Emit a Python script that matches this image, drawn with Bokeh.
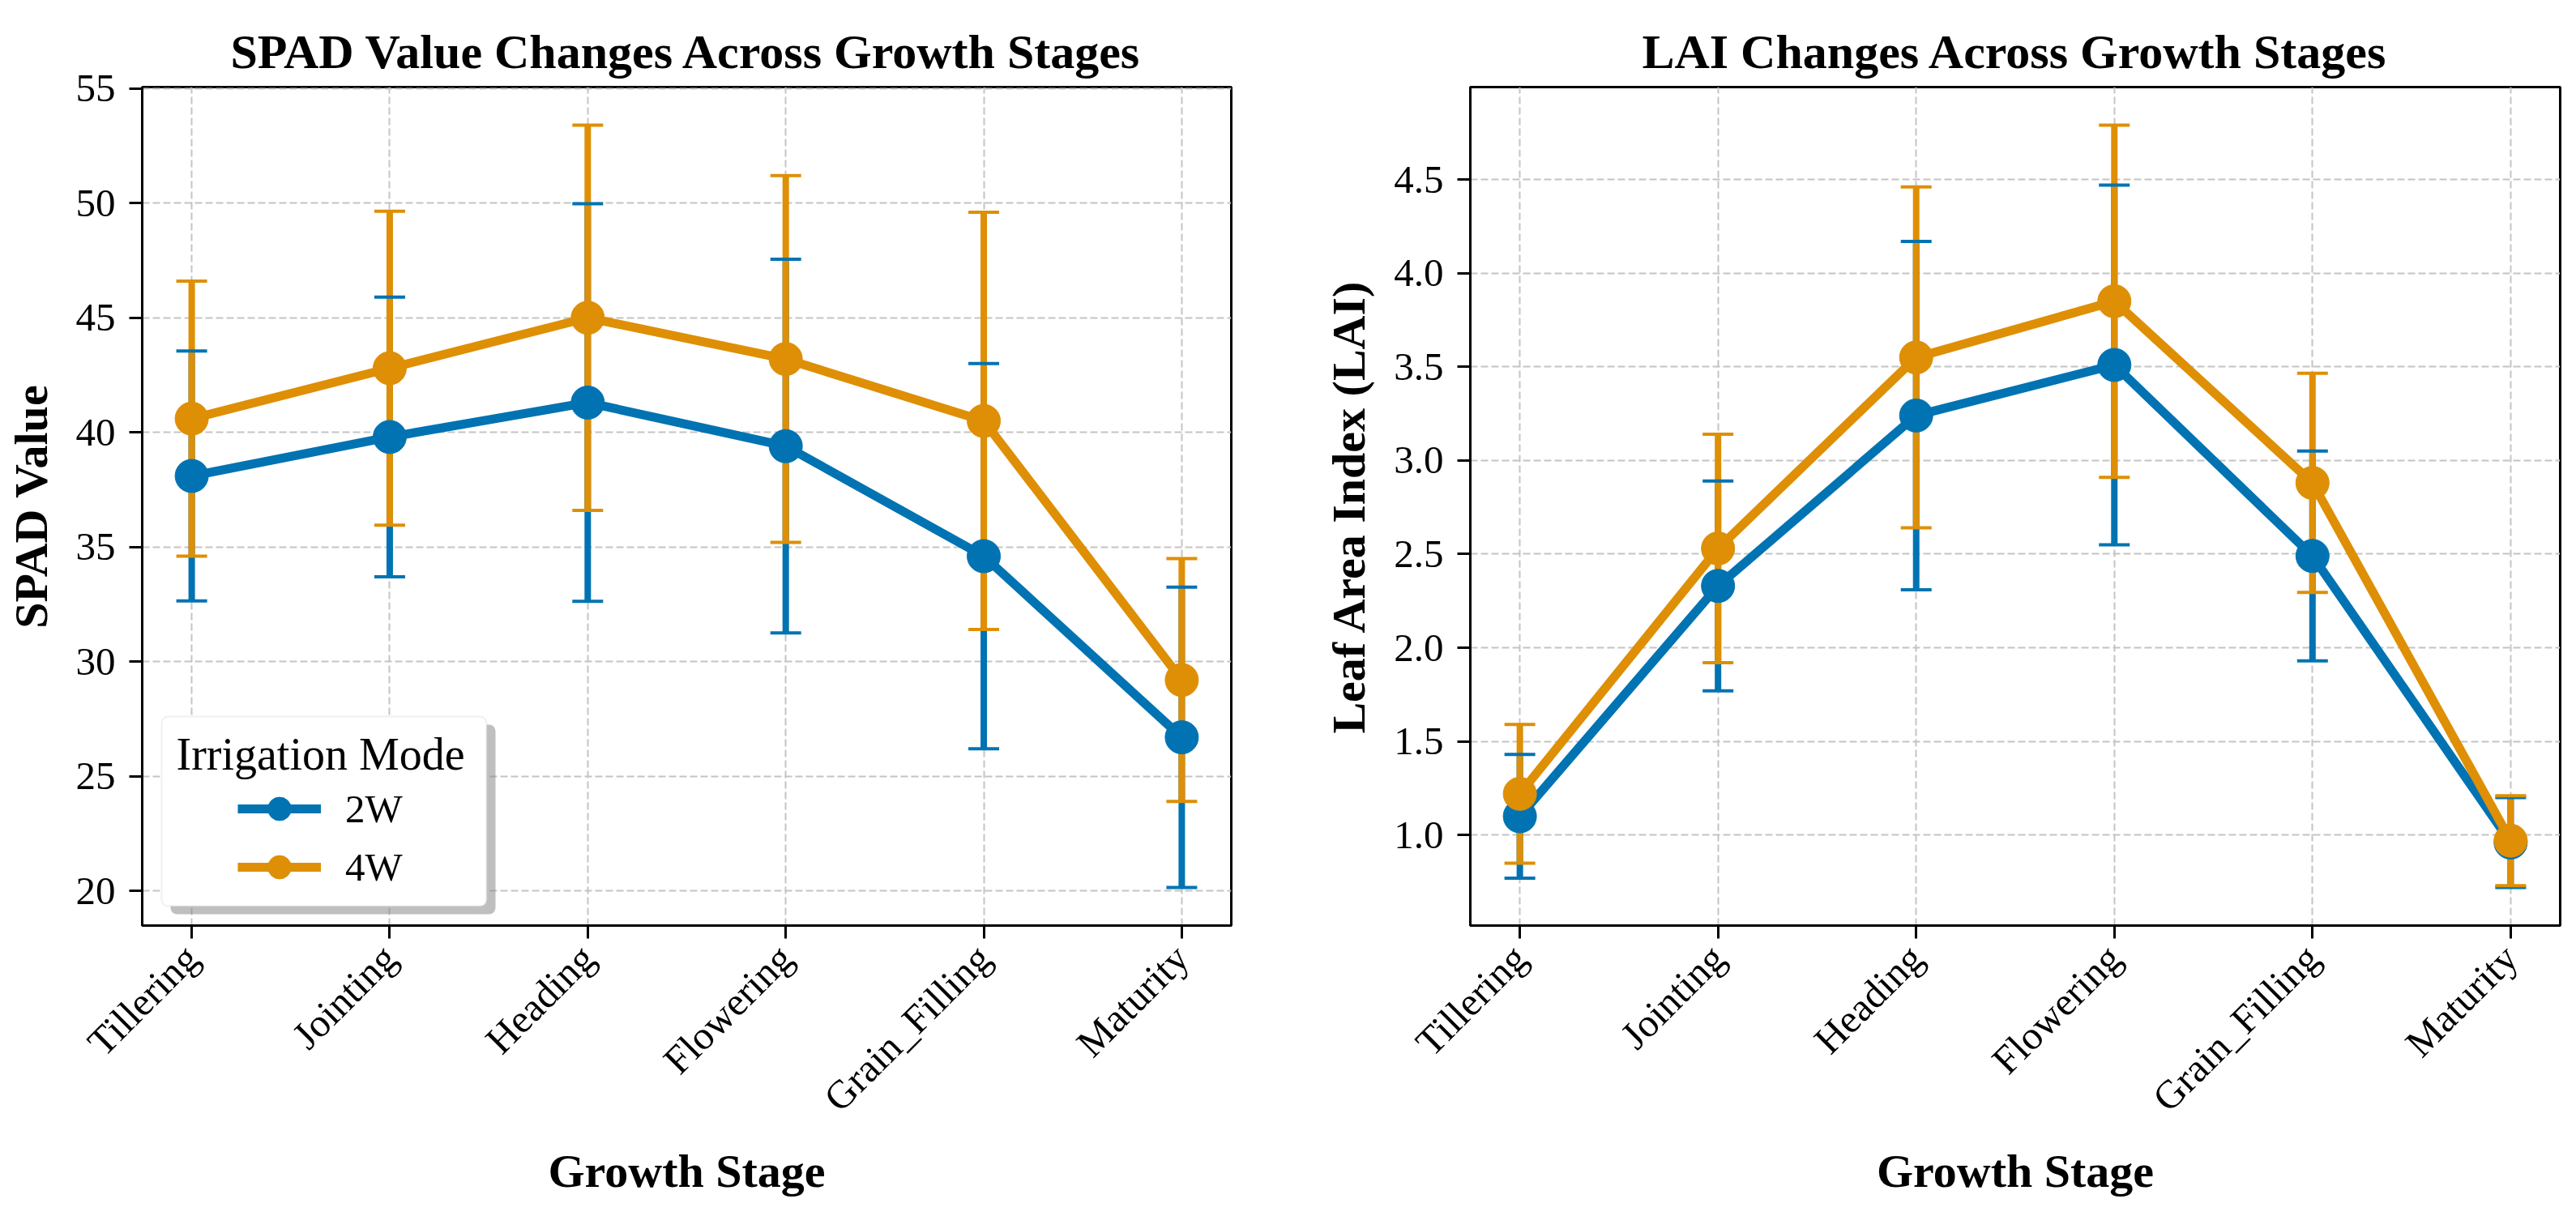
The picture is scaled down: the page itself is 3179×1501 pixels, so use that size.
import math
from bokeh.plotting import figure
from bokeh.models import (Range1d, FixedTicker, NumeralTickFormatter, Legend, LegendItem,
                          BoxAnnotation, Label)
from bokeh.layouts import row
from bokeh.embed import file_html
from bokeh.resources import INLINE

# ---------------- data ----------------
stages = ["Tillering", "Jointing", "Heading", "Flowering", "Grain_Filling", "Maturity"]
modes = ["2W", "4W"]

spad_2w = [38.1, 39.8, 41.3, 39.4, 34.6, 26.7]
spad_2w_err = [5.45, 6.1, 8.67, 8.15, 8.4, 6.55]
spad_4w = [40.6, 42.8, 45.0, 43.2, 40.5, 29.2]
spad_4w_err = [6.0, 6.85, 8.4, 8.0, 9.1, 5.3]

lai_2w = [1.10, 2.33, 3.24, 3.51, 2.49, 0.96]
lai_2w_err = [0.33, 0.56, 0.93, 0.96, 0.56, 0.24]
lai_4w = [1.22, 2.53, 3.55, 3.85, 2.88, 0.97]
lai_4w_err = [0.37, 0.61, 0.91, 0.94, 0.585, 0.24]

spad_ticks = [20, 25, 30, 35, 40, 45, 50, 55]
lai_ticks = [1.0, 1.5, 2.0, 2.5, 3.0, 3.5, 4.0, 4.5]

colors = ["#0173B2", "#DE8F05"]
FONT = "Liberation Serif"


def make_panel(title, ylabel, series, errs, yticks, fmt, width, b_left, b_right):
    xs = list(range(len(stages)))
    lows = [m - e for s, es in zip(series, errs) for m, e in zip(s, es)]
    highs = [m + e for s, es in zip(series, errs) for m, e in zip(s, es)]
    lo, hi = min(lows), max(highs)
    pad = 0.05 * (hi - lo)
    p = figure(width=width, height=1485, output_backend="svg", toolbar_location=None,
               x_range=Range1d(-0.25, len(stages) - 1 + 0.25),
               y_range=Range1d(lo - pad, hi + pad),
               min_border_left=b_left, min_border_right=b_right,
               min_border_top=107, min_border_bottom=343)
    p.background_fill_color = "white"
    p.border_fill_color = "white"
    p.outline_line_color = "black"
    p.outline_line_width = 3

    p.title.text = title
    p.title.align = "center"
    p.title.text_font = FONT
    p.title.text_font_size = "60px"
    p.title.text_font_style = "bold"
    p.title.text_color = "black"
    p.title.standoff = 22

    for ax in (p.xaxis[0], p.yaxis[0]):
        ax.axis_line_color = "black"
        ax.axis_line_width = 3
        ax.major_tick_line_color = "black"
        ax.major_tick_line_width = 3
        ax.major_tick_out = 16
        ax.major_tick_in = 0
        ax.minor_tick_line_color = None
        ax.major_label_text_font = FONT
        ax.major_label_text_font_size = "49px"
        ax.major_label_text_color = "black"
        ax.axis_label_text_font = FONT
        ax.axis_label_text_font_size = "58px"
        ax.axis_label_text_font_style = "bold"
        ax.axis_label_text_color = "black"

    p.xaxis.ticker = FixedTicker(ticks=xs)
    p.xaxis.major_label_overrides = {i: s for i, s in enumerate(stages)}
    p.xaxis.major_label_orientation = math.pi / 4
    p.xaxis.major_label_standoff = 16
    p.xaxis.axis_label = "Growth Stage"
    p.xaxis.axis_label_standoff = 8

    p.yaxis.ticker = FixedTicker(ticks=yticks)
    p.yaxis.formatter = NumeralTickFormatter(format=fmt)
    p.yaxis.major_label_standoff = 17
    p.yaxis.axis_label = ylabel
    p.yaxis.axis_label_standoff = 20

    for g in (p.xgrid[0], p.ygrid[0]):
        g.grid_line_color = "#c4c4c4"
        g.grid_line_width = 2
        g.grid_line_dash = "9 4"
    p.xgrid.ticker = FixedTicker(ticks=xs)
    p.ygrid.ticker = FixedTicker(ticks=yticks)

    # error bars
    for s, es, c in zip(series, errs, colors):
        p.segment(x0=xs, y0=[m - e for m, e in zip(s, es)], x1=xs,
                  y1=[m + e for m, e in zip(s, es)], line_color=c, line_width=8)
    for s, es, c in zip(series, errs, colors):
        p.scatter(x=xs + xs, y=[m - e for m, e in zip(s, es)] + [m + e for m, e in zip(s, es)],
                  marker="dash", size=38, line_color=c, line_width=4)
    lines = []
    for s, c in zip(series, colors):
        ln = p.line(x=xs, y=s, line_color=c, line_width=11)
        mk = p.scatter(x=xs, y=s, marker="circle", size=41, fill_color=c, line_color=c, line_width=1)
        lines.append((ln, mk))
    return p, lines


p1, r1 = make_panel("SPAD Value Changes Across Growth Stages", "SPAD Value",
                    [spad_2w, spad_4w], [spad_2w_err, spad_4w_err], spad_ticks, "0",
                    1585, 175, 66)
p2, r2 = make_panel("LAI Changes Across Growth Stages", "Leaf Area Index (LAI)",
                    [lai_2w, lai_4w], [lai_2w_err, lai_4w_err], lai_ticks, "0.0",
                    1578, 229, 4)

# legend (left panel) with fancy box + shadow
shadow = BoxAnnotation(left=35, right=436, bottom=14, top=248,
                       left_units="screen", right_units="screen",
                       bottom_units="screen", top_units="screen",
                       fill_color="#8a8a8a", fill_alpha=0.55, line_alpha=0, border_radius=8)
box = BoxAnnotation(left=24, right=425, bottom=24, top=258,
                    left_units="screen", right_units="screen",
                    bottom_units="screen", top_units="screen",
                    fill_color="white", fill_alpha=1.0, line_color="#cccccc", line_width=2,
                    border_radius=8)
p1.add_layout(shadow)
p1.add_layout(box)
ltitle = Label(x=42, y=212, x_units="screen", y_units="screen", text="Irrigation Mode",
               text_font=FONT, text_font_size="56px", text_color="black",
               text_baseline="alphabetic")
p1.add_layout(ltitle)
legend = Legend(items=[LegendItem(label=m, renderers=list(r)) for m, r in zip(modes, r1)],
                location=(118, 36), padding=0, margin=0, spacing=0,
                glyph_width=103, glyph_height=72, label_height=72, label_standoff=30,
                label_text_font=FONT, label_text_font_size="49px", label_text_color="black",
                background_fill_alpha=0, border_line_alpha=0)
p1.add_layout(legend)

layout = row(p1, p2)
open("out.html", "w").write(file_html(layout, INLINE))
